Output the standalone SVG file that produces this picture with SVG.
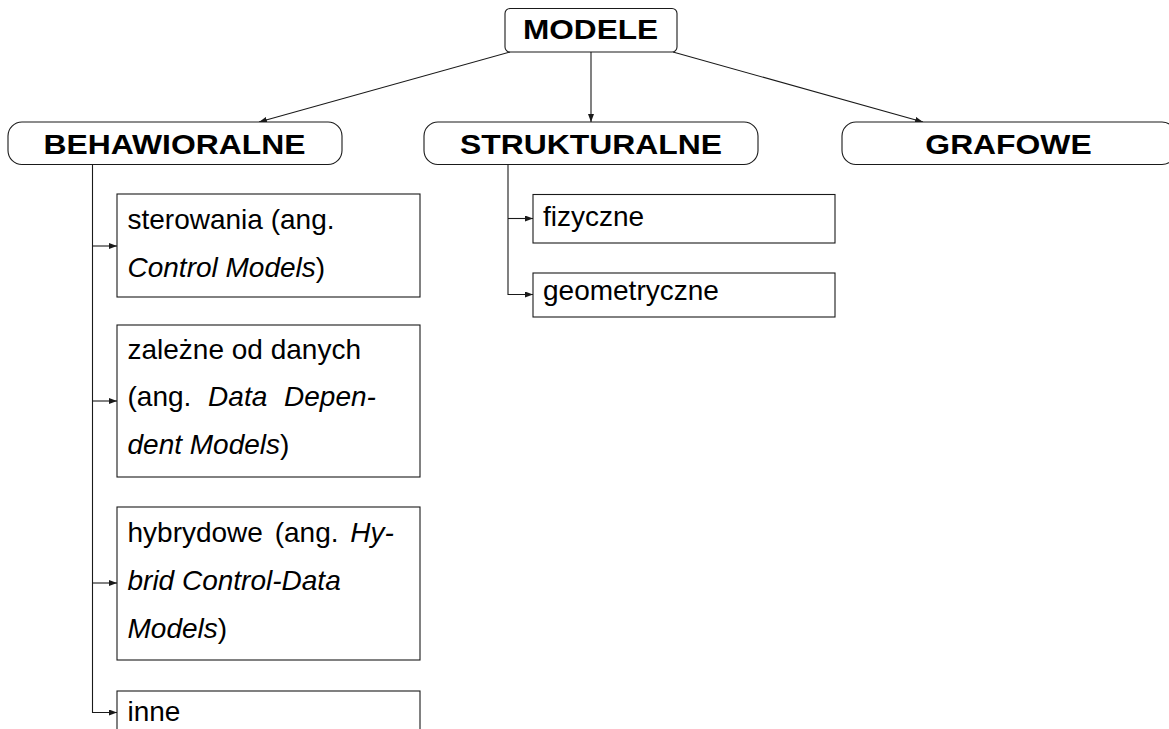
<svg xmlns="http://www.w3.org/2000/svg" width="1169" height="729" viewBox="0 0 1169 729">
<style>
.box{fill:#fff;stroke:#1a1a1a;stroke-width:1.1}
.conn{fill:none;stroke:#1a1a1a;stroke-width:1.1}
.head{font-family:"Liberation Sans",Arial,sans-serif;font-weight:bold;font-size:27px;fill:#000;text-anchor:middle}
.t{font-family:"Liberation Sans",Arial,sans-serif;font-size:28px;fill:#000}
.i{font-style:italic}
</style>
<defs>
<marker id="arr" viewBox="0 0 8 6" refX="8" refY="3" markerWidth="8" markerHeight="6" markerUnits="userSpaceOnUse" orient="auto">
<path d="M0,0 L8,3 L0,6 z" fill="#1a1a1a"/>
</marker>
</defs>
<rect width="1169" height="729" fill="#fff"/>
<g id="connectors">
<line class="conn" x1="510" y1="52" x2="259" y2="122" marker-end="url(#arr)"/>
<line class="conn" x1="591" y1="52" x2="591" y2="122" marker-end="url(#arr)"/>
<line class="conn" x1="673" y1="52" x2="923" y2="122" marker-end="url(#arr)"/>
<path class="conn" d="M92.5,165 V712.5 H117" marker-end="url(#arr)"/>
<line class="conn" x1="92.5" y1="246" x2="117" y2="246" marker-end="url(#arr)"/>
<line class="conn" x1="92.5" y1="401" x2="117" y2="401" marker-end="url(#arr)"/>
<line class="conn" x1="92.5" y1="583" x2="117" y2="583" marker-end="url(#arr)"/>
<path class="conn" d="M508,165 V294.5 H533" marker-end="url(#arr)"/>
<line class="conn" x1="508" y1="218.5" x2="533" y2="218.5" marker-end="url(#arr)"/>
</g>
<g id="modele">
<rect class="box" x="505" y="8.5" width="172" height="43.5" rx="5"/>
<text class="head" transform="translate(590.5,39.3) scale(1.17,1)">MODELE</text>
</g>
<g id="behawioralne">
<rect class="box" x="8" y="122" width="334" height="42.5" rx="14"/>
<text class="head" transform="translate(174.5,154.3) scale(1.18,1)">BEHAWIORALNE</text>
</g>
<g id="strukturalne">
<rect class="box" x="424" y="122" width="334" height="42.5" rx="14"/>
<text class="head" transform="translate(591,154.3) scale(1.18,1)">STRUKTURALNE</text>
</g>
<g id="grafowe">
<rect class="box" x="842" y="122" width="334" height="42.5" rx="14"/>
<text class="head" transform="translate(1008.5,154.3) scale(1.18,1)">GRAFOWE</text>
</g>
<g id="sterowania">
<rect class="box" x="117" y="194" width="303" height="103"/>
<text class="t" x="127.5" y="228.5">sterowania (ang.</text>
<text class="t" x="127.5" y="276.5"><tspan class="i">Control Models</tspan>)</text>
</g>
<g id="zalezne">
<rect class="box" x="117" y="325" width="303" height="152"/>
<text class="t" x="127.5" y="358.5">zależne od danych</text>
<text class="t" x="127.5" y="406" word-spacing="9">(ang. <tspan class="i">Data Depen-</tspan></text>
<text class="t" x="127.5" y="453.5"><tspan class="i">dent Models</tspan>)</text>
</g>
<g id="hybrydowe">
<rect class="box" x="117" y="507" width="303" height="153"/>
<text class="t" x="127.5" y="542" word-spacing="4">hybrydowe (ang. <tspan class="i">Hy-</tspan></text>
<text class="t" x="127.5" y="590"><tspan class="i">brid Control-Data</tspan></text>
<text class="t" x="127.5" y="638"><tspan class="i">Models</tspan>)</text>
</g>
<g id="inne">
<rect class="box" x="117" y="691" width="303" height="48"/>
<text class="t" x="127.5" y="720.5">inne</text>
</g>
<g id="fizyczne">
<rect class="box" x="533" y="194.5" width="302" height="48.5"/>
<text class="t" x="543" y="226">fizyczne</text>
</g>
<g id="geometryczne">
<rect class="box" x="533" y="273" width="302" height="44"/>
<text class="t" x="543" y="300">geometryczne</text>
</g>
</svg>
